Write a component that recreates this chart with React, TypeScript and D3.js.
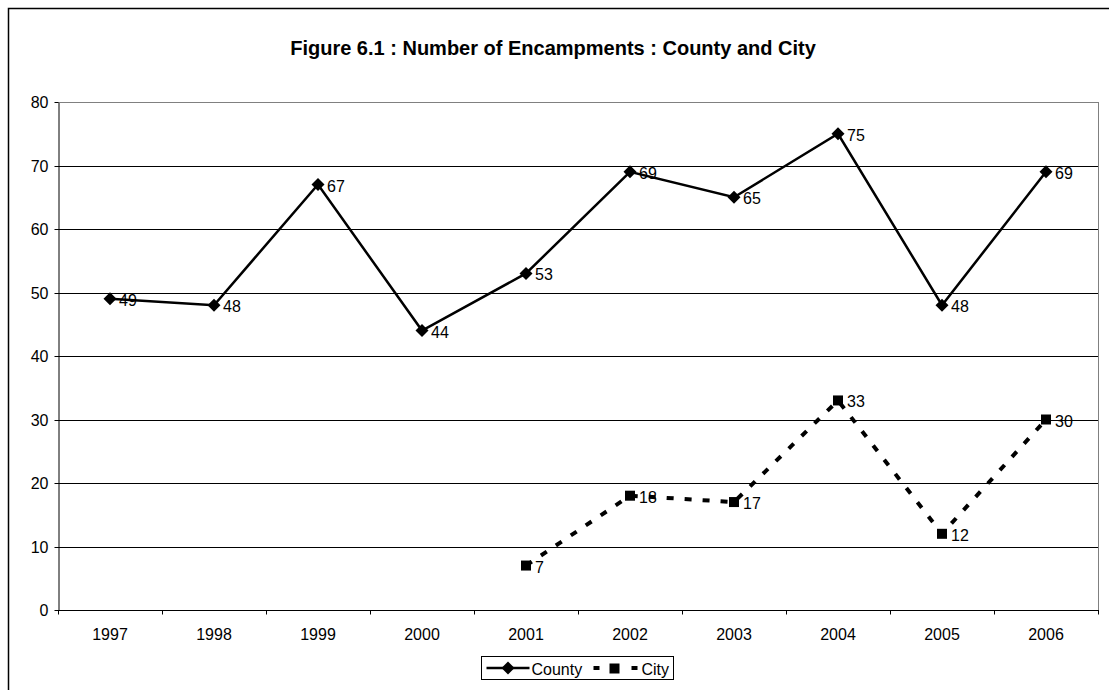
import * as d3 from 'd3';
import { useEffect, useRef } from 'react';

const YEARS = ['1997', '1998', '1999', '2000', '2001', '2002', '2003', '2004', '2005', '2006'];
const COUNTY = [49, 48, 67, 44, 53, 69, 65, 75, 48, 69];
const CITY: (number | null)[] = [null, null, null, null, 7, 18, 17, 33, 12, 30];
const Y_TICKS = [0, 10, 20, 30, 40, 50, 60, 70, 80];
const TITLE = 'Figure 6.1 : Number of Encampments : County and City';

const WIDTH = 1109;
const HEIGHT = 690;
const PLOT = { left: 58, right: 1098, top: 102, bottom: 610 };
const FONT = 'Arial, "Liberation Sans", sans-serif';
const DIAMOND = 'M0,-6.5L6.5,0L0,6.5L-6.5,0Z';
const DASH = '7,11';

const App = () => {
    const svgRef = useRef<SVGSVGElement>(null);

    useEffect(() => {
        if (!svgRef.current) return;
        const svg = d3.select(svgRef.current);
        svg.selectAll('*').remove();

        const x = d3.scaleBand().domain(YEARS).range([PLOT.left, PLOT.right]);
        const y = d3.scaleLinear().domain([0, 80]).range([PLOT.bottom, PLOT.top]);
        const cx = (d: string) => x(d)! + x.bandwidth() / 2;

        // outer frame (only top and left edges fall inside the picture)
        svg.append('rect').attr('width', WIDTH).attr('height', HEIGHT).attr('fill', '#fff');
        svg.append('path')
            .attr('d', `M8.5,${HEIGHT}V8.5H${WIDTH}`)
            .attr('fill', 'none')
            .attr('stroke', '#000')
            .attr('stroke-width', 1.5);

        svg.append('text')
            .attr('x', 553)
            .attr('y', 55)
            .attr('text-anchor', 'middle')
            .style('font-family', FONT)
            .style('font-size', '20px')
            .style('font-weight', 'bold')
            .text(TITLE);

        // gridlines
        svg.append('g')
            .selectAll('line')
            .data(Y_TICKS.filter((t) => t > 0))
            .enter()
            .append('line')
            .attr('x1', PLOT.left)
            .attr('x2', PLOT.right)
            .attr('y1', (d) => Math.round(y(d)) + 0.5)
            .attr('y2', (d) => Math.round(y(d)) + 0.5)
            .attr('stroke', (d) => (d === 80 ? '#808080' : '#000'))
            .attr('stroke-width', 1);

        // plot area right border
        svg.append('line')
            .attr('x1', PLOT.right + 0.5)
            .attr('x2', PLOT.right + 0.5)
            .attr('y1', PLOT.top)
            .attr('y2', PLOT.bottom)
            .attr('stroke', '#808080');

        // y axis
        const yAxis = svg.append('g')
            .attr('transform', `translate(${PLOT.left + 0.5},0.5)`)
            .call(d3.axisLeft(y).tickValues(Y_TICKS).tickSize(4).tickSizeOuter(0).tickPadding(6));
        yAxis.selectAll('text').style('font-family', FONT).style('font-size', '16px').attr('fill', '#000');
        yAxis.selectAll('line, path').attr('stroke', '#000');
        yAxis.selectAll('.tick').attr('transform', (d: any) => `translate(0,${Math.round(y(d))})`);

        // x axis
        const xAxisG = svg.append('g').attr('transform', `translate(0,${PLOT.bottom + 0.5})`);
        xAxisG.append('line')
            .attr('x1', PLOT.left)
            .attr('x2', PLOT.right + 1)
            .attr('stroke', '#000');
        xAxisG.selectAll('line.tk')
            .data(d3.range(YEARS.length + 1))
            .enter()
            .append('line')
            .attr('class', 'tk')
            .attr('x1', (i) => Math.round(PLOT.left + i * x.step()) + 0.5)
            .attr('x2', (i) => Math.round(PLOT.left + i * x.step()) + 0.5)
            .attr('y1', 0)
            .attr('y2', 4)
            .attr('stroke', '#000');
        xAxisG.selectAll('text')
            .data(YEARS)
            .enter()
            .append('text')
            .attr('x', (d) => cx(d))
            .attr('y', 29)
            .attr('text-anchor', 'middle')
            .style('font-family', FONT)
            .style('font-size', '16px')
            .text((d) => d);

        // County line
        const countyPts = YEARS.map((yr, i) => ({ yr, v: COUNTY[i] }));
        svg.append('path')
            .datum(countyPts)
            .attr('fill', 'none')
            .attr('stroke', '#000')
            .attr('stroke-width', 2.5)
            .attr('d', d3.line<{ yr: string; v: number }>().x((d) => cx(d.yr)).y((d) => y(d.v)));

        svg.append('g')
            .selectAll('path')
            .data(countyPts)
            .enter()
            .append('path')
            .attr('transform', (d) => `translate(${cx(d.yr)},${y(d.v)})`)
            .attr('d', DIAMOND)
            .attr('fill', '#000');

        svg.append('g')
            .selectAll('text')
            .data(countyPts)
            .enter()
            .append('text')
            .attr('x', (d) => cx(d.yr) + 9)
            .attr('y', (d) => y(d.v) + 7)
            .style('font-family', FONT)
            .style('font-size', '16px')
            .text((d) => d.v);

        // City line
        const cityPts = YEARS.map((yr, i) => ({ yr, v: CITY[i] })).filter((d) => d.v !== null) as {
            yr: string;
            v: number;
        }[];
        svg.append('path')
            .datum(cityPts)
            .attr('fill', 'none')
            .attr('stroke', '#000')
            .attr('stroke-width', 4)
            .attr('stroke-dasharray', DASH)
            .attr('d', d3.line<{ yr: string; v: number }>().x((d) => cx(d.yr)).y((d) => y(d.v)));

        svg.append('g')
            .selectAll('rect')
            .data(cityPts)
            .enter()
            .append('rect')
            .attr('x', (d) => cx(d.yr) - 5)
            .attr('y', (d) => y(d.v) - 5)
            .attr('width', 10)
            .attr('height', 10)
            .attr('fill', '#000');

        svg.append('g')
            .selectAll('text')
            .data(cityPts)
            .enter()
            .append('text')
            .attr('x', (d) => cx(d.yr) + 9)
            .attr('y', (d) => y(d.v) + 7)
            .style('font-family', FONT)
            .style('font-size', '16px')
            .text((d) => d.v);

        // legend
        const lg = svg.append('g').attr('transform', 'translate(481.5,656.5)');
        lg.append('rect').attr('width', 192).attr('height', 23).attr('fill', '#fff').attr('stroke', '#000');
        lg.append('line').attr('x1', 5).attr('x2', 48).attr('y1', 11.5).attr('y2', 11.5).attr('stroke', '#000').attr('stroke-width', 2.5);
        lg.append('path').attr('transform', 'translate(26.5,11.5)').attr('d', DIAMOND).attr('fill', '#000');
        lg.append('text').attr('x', 50).attr('y', 18).style('font-family', FONT).style('font-size', '16px').text('County');
        lg.append('line')
            .attr('x1', 112)
            .attr('x2', 156)
            .attr('y1', 11.5)
            .attr('y2', 11.5)
            .attr('stroke', '#000')
            .attr('stroke-width', 4)
            .attr('stroke-dasharray', '6,13');
        lg.append('rect').attr('x', 128).attr('y', 7).attr('width', 10).attr('height', 10).attr('fill', '#000');
        lg.append('text').attr('x', 160).attr('y', 18).style('font-family', FONT).style('font-size', '16px').text('City');
    }, []);

    return (
        <svg
            ref={svgRef}
            width={WIDTH}
            height={HEIGHT}
            style={{ display: 'block', position: 'absolute', left: 0, top: 0 }}
        />
    );
};

export default App;
